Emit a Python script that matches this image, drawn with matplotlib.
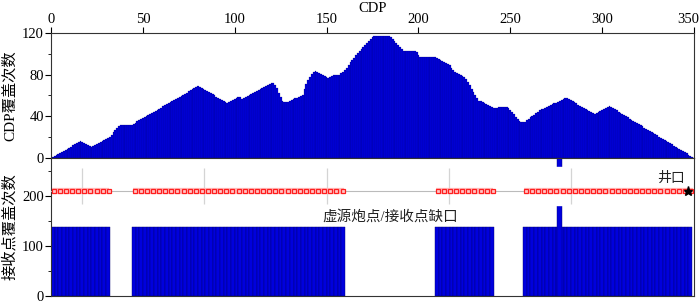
#CDP fold and shot/receiver fold along the line
import numpy as np
import matplotlib.pyplot as plt

plt.rcParams['font.family'] = ['Liberation Serif', 'Noto Sans CJK SC']

#CDP fold profile (at the corners of the curve)
cdp_knots = [0, 16, 22, 32, 37.6, 44, 80, 96, 102.5, 104.3, 120.7, 122.5, 125.6, 128.3, 137.4, 138.3,
             141.9, 144.3, 151, 153.7, 156.4, 160, 162.8, 175.5, 184.5, 191.8, 198.2, 200.9, 209,
             217.2, 219, 225.4, 232.6, 241.7, 243.5, 248.9, 255.3, 258, 266.2, 280.7, 296.1, 304.3,
             313.4, 350]
fold_knots = [0, 16, 11, 20.5, 31.7, 32, 69, 53, 58.7, 56.5, 73, 69, 55.5, 53, 61, 69,
              81, 83.5, 77, 79.3, 79.3, 84, 92, 117.4, 117.4, 103, 103, 97.4, 96.8,
              88.9, 84, 77.7, 55.5, 47.6, 48.6, 48.6, 34.9, 34.9, 46, 57.8, 41.9, 49.8,
              39.6, 0]

#stretches of the line that have shots/receivers (the rest are gaps)
live_segments = [(0, 32), (44, 160), (209, 241), (257, 350)]
receiver_fold = 138
well_cdp = 347
spike_cdp = 276
grid_cdp = [16.7, 83.3, 150, 216.7, 283.3]
top_ticks = [0, 50, 100, 150, 200, 250, 300, 350]

cdp = np.arange(0, 351)
fold = np.interp(cdp, cdp_knots, fold_knots)

bar_color = '#0000dd'
edge_color = '#000070'

fig = plt.figure(figsize=(7, 3.06), dpi=100)
ax1 = fig.add_axes([0.0729, 0.4837, 0.9185, 0.4085])
ax2 = fig.add_axes([0.0729, 0.0327, 0.9185, 0.451])

#top panel
ax1.bar(cdp, fold, width=1, color=bar_color, edgecolor=edge_color, linewidth=0.15)
ax1.set_xlim(0, 350)
ax1.set_ylim(0, 120)
ax1.set_yticks([0, 40, 80, 120])
ax1.set_yticks([20, 60, 100], minor=True)
ax1.set_xticks(top_ticks)
#last label is drawn by hand a little to the left so it stays inside the figure
ax1.set_xticklabels([str(t) for t in top_ticks[:-1]] + [''])
ax1.annotate(str(top_ticks[-1]), xy=(top_ticks[-1] - 3.3, 1.0), xycoords=ax1.get_xaxis_transform(),
             xytext=(0, 5), textcoords='offset points', ha='center', va='bottom', fontsize=10.5)
ax1.xaxis.tick_top()
ax1.xaxis.set_label_position('top')
ax1.set_xlabel('CDP', fontsize=10.5, labelpad=1)
ax1.set_ylabel('CDP覆盖次数', fontsize=11, labelpad=4)
ax1.tick_params(labelsize=10.5, pad=1)

#bottom panel
for a, b in live_segments:
    x = np.arange(a + 1, b, 2)
    ax2.bar(x, np.full(len(x), receiver_fold), width=2, color=bar_color, edgecolor=edge_color, linewidth=0.3)
ax2.bar(spike_cdp + 0.7, 400, width=2.4, color=bar_color, edgecolor=edge_color, linewidth=0.3)
ax2.axhspan(182, 257, color='white', zorder=2)
ax2.axhline(210, color='#bbbbbb', linewidth=0.8, zorder=3)
ax2.vlines(grid_cdp, 184, 256, color='#d4d4d4', linewidth=0.9, zorder=3)
for a, b in live_segments:
    x = np.arange(a + 1.5, b, 3.33)
    ax2.plot([a + 0.5, b - 0.5], [210, 210], color='#ffb8b8', linewidth=4.5, zorder=4, solid_capstyle='butt')
    ax2.plot(x, np.full(len(x), 210), 's', markersize=3.2, mfc='#ffc8c8', mec='#ff1e1e', mew=0.9, zorder=5)
ax2.plot(well_cdp, 210, '*', color='black', markersize=6.5, zorder=6)
ax2.text(well_cdp - 2, 222, '井口', ha='right', va='bottom', fontsize=10, color='#222222', zorder=6)
ax2.text(184.5, 158, '虚源炮点/接收点缺口', ha='center', va='center', fontsize=10.5, color='#222222', zorder=6)
ax2.set_xlim(0, 350)
ax2.set_ylim(0, 275)
ax2.set_xticks([])
ax2.set_yticks([0, 100, 200])
ax2.set_yticks([50, 150, 250], minor=True)
ax2.set_ylabel('接收点覆盖次数', fontsize=11, labelpad=4)
ax2.tick_params(labelsize=10.5, pad=1)

for ax in (ax1, ax2):
    ax.tick_params(which='major', length=4, direction='out')
    ax.tick_params(which='minor', length=2.5, direction='out')
    for s in ax.spines.values():
        s.set_color('#333333')

plt.savefig('out.png', dpi=100)
